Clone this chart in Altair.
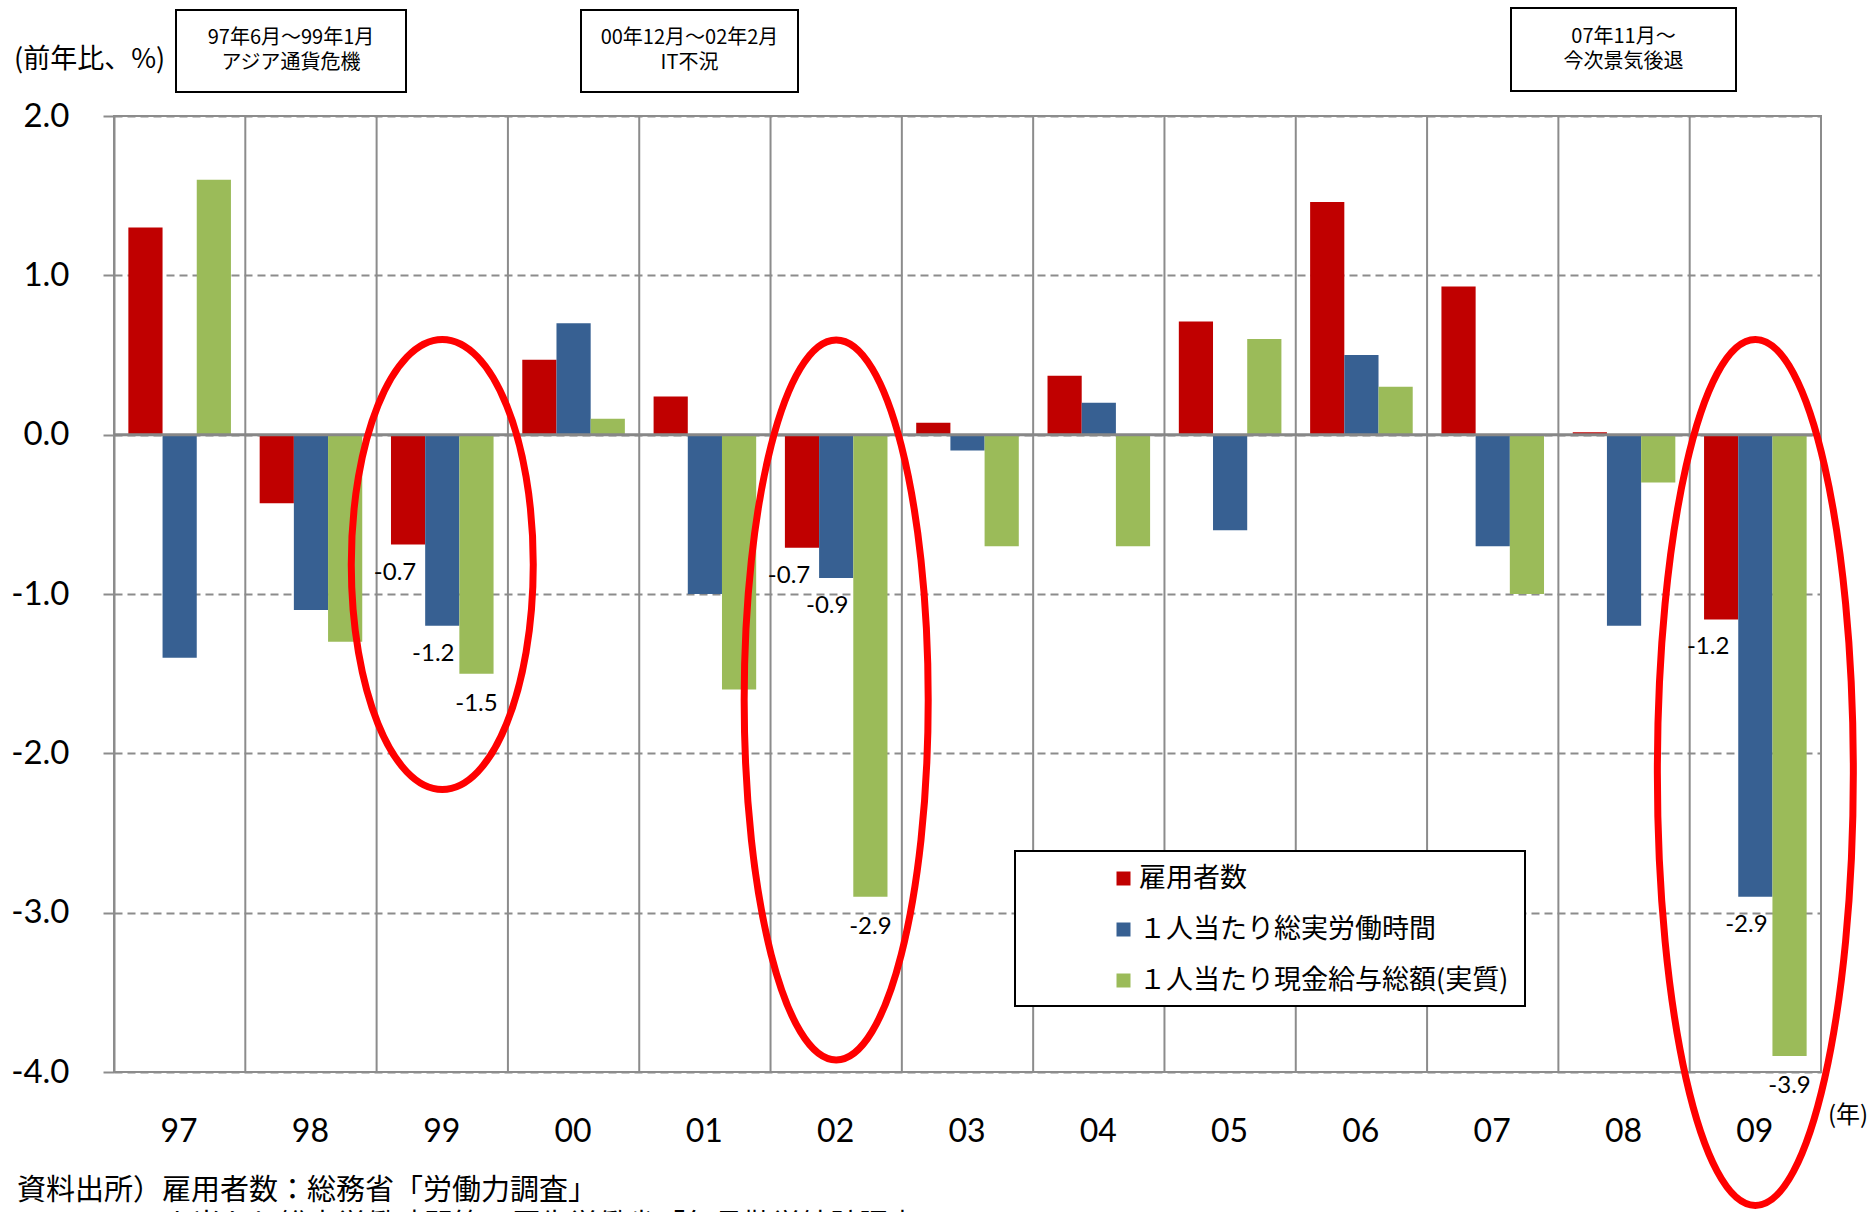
import altair as alt
import pandas as pd

# ---- values (year-on-year change, %) ----
years = ["97", "98", "99", "00", "01", "02", "03", "04", "05", "06", "07", "08", "09"]
employees = [1.30, -0.43, -0.69, 0.47, 0.24, -0.71, 0.075, 0.37, 0.71, 1.46, 0.93, 0.015, -1.16]
hours = [-1.40, -1.10, -1.20, 0.70, -1.00, -0.90, -0.10, 0.20, -0.60, 0.50, -0.70, -1.20, -2.90]
wages = [1.60, -1.30, -1.50, 0.10, -1.60, -2.90, -0.70, -0.70, 0.60, 0.30, -1.00, -0.30, -3.90]

series_names = ["雇用者数", "１人当たり総実労働時間", "１人当たり現金給与総額(実質)"]
series_colors = ["#C00000", "#376092", "#9BBB59"]

# years whose bars carry value labels and a ring
labeled_years = ["99", "02", "09"]
ring_centres = [-0.815, -1.665, -2.12]

period_notes = [
    ("97年6月～99年1月", "アジア通貨危機"),
    ("00年12月～02年2月", "IT不況"),
    ("07年11月～", "今次景気後退"),
]

unit_label = "(前年比、%)"
year_label = "(年)"
source_note = "資料出所）雇用者数：総務省「労働力調査」"
source_note2 = "１人当たり総実労働時間等：厚生労働省「毎月勤労統計調査」"

JP = "Noto Sans CJK JP"
NUM = "Lato"
GRID = "#8c8c8c"

rows = []
for s, vals in zip(series_names, [employees, hours, wages]):
    for yr, v in zip(years, vals):
        rows.append({"year": yr, "series": s, "value": v})
df = pd.DataFrame(rows)

W, H = 1707, 956

x_enc = alt.X(
    "year:N", sort=years,
    scale=alt.Scale(domain=years, paddingInner=0, paddingOuter=0),
    axis=alt.Axis(title=None, domain=False, ticks=False, tickSize=0, grid=False,
                  labelAngle=0, labelFont=NUM, labelFontSize=32, labelColor="black",
                  labelPadding=59, labelBaseline="middle", labelOffset=18),
)
y_scale = alt.Scale(domain=[-4, 2], nice=False, zero=False)
y_enc = alt.Y(
    "value:Q", scale=y_scale,
    axis=alt.Axis(title=None, values=[-4, -3, -2, -1, 0, 1, 2],
                  labelExpr="(datum.value < 0 ? '-' : '') + format(abs(datum.value), '.1f')",
                  grid=True, gridDash=[8, 5], gridColor=GRID, gridWidth=2,
                  domainColor=GRID, domainWidth=2, tickColor=GRID, tickWidth=2, tickSize=11,
                  labelPadding=34, labelFont=NUM, labelFontSize=33, labelColor="black"),
)
offset_enc = alt.XOffset("series:N", sort=series_names,
                         scale=alt.Scale(domain=series_names, paddingInner=0, paddingOuter=0.42))

base = alt.Chart(df)

# vertical separators at the left edge of each year band
separators = alt.Chart(pd.DataFrame({"year": years})).mark_rule(
    color=GRID, strokeWidth=2
).encode(x=alt.X("year:N", sort=years, bandPosition=0))

bars = base.mark_bar(strokeWidth=0).encode(
    x=x_enc,
    xOffset=offset_enc,
    y=y_enc,
    color=alt.Color(
        "series:N", sort=series_names,
        scale=alt.Scale(domain=series_names, range=series_colors),
        legend=alt.Legend(orient="none", legendX=996, legendY=749, title=None,
                          symbolType="square", symbolSize=196, symbolStrokeWidth=0,
                          labelFont=JP, labelFontSize=27, labelColor="black", labelLimit=0,
                          labelOffset=2, rowPadding=23, padding=0),
    ),
)

zero_line = alt.Chart(pd.DataFrame({"value": [0]})).mark_rule(
    color="#878787", strokeWidth=3
).encode(y=alt.Y("value:Q", scale=y_scale))

# value labels under the bars of the circled years
label_style = {series_names[0]: (-13, 28), series_names[1]: (-9, 28), series_names[2]: (0, 30)}
value_labels = []
for s in series_names:
    dx, dy = label_style[s]
    value_labels.append(
        base.transform_filter(
            alt.FieldOneOfPredicate(field="year", oneOf=labeled_years)
        ).transform_filter(
            alt.FieldEqualPredicate(field="series", equal=s)
        ).transform_calculate(
            label="(datum.value < 0 ? '-' : '') + format(abs(datum.value), '.1f')"
        ).mark_text(font=NUM, fontSize=24, color="black", dx=dx, dy=dy, baseline="middle")
        .encode(x=x_enc, xOffset=offset_enc, y=y_enc, text="label:N")
    )

# legend frame
legend_box = alt.Chart(pd.DataFrame({"k": [0]})).mark_rect(
    fill="white", stroke="black", strokeWidth=2
).encode(x=alt.value(901), x2=alt.value(1411), y=alt.value(735), y2=alt.value(890))


def ellipse_path(a):
    k = 0.5523
    return (f"M 0 -1 C {k*a:.4f} -1 {a:.4f} {-k:.4f} {a:.4f} 0 "
            f"C {a:.4f} {k:.4f} {k*a:.4f} 1 0 1 "
            f"C {-k*a:.4f} 1 {-a:.4f} {k:.4f} {-a:.4f} 0 "
            f"C {-a:.4f} {-k:.4f} {-k*a:.4f} -1 0 -1 Z")


# ring radii in pixels (half-width, half-height)
ring_radii = [(91, 225), (92, 360), (98, 433)]
rings = []
for yr, c, (rx, ry) in zip(labeled_years, ring_centres, ring_radii):
    rings.append(
        alt.Chart(pd.DataFrame({"year": [yr], "value": [c]})).mark_point(
            shape=ellipse_path(rx / ry), size=(2 * ry) ** 2, filled=False,
            stroke="#FF0000", strokeWidth=7, opacity=1
        ).encode(x=alt.X("year:N", sort=years), y=alt.Y("value:Q", scale=y_scale))
    )


def free_text(txt, x, y, size, align="left"):
    return alt.Chart(pd.DataFrame({"k": [0]})).mark_text(
        font=JP, fontSize=size, color="black", align=align, baseline="middle"
    ).encode(x=alt.value(x), y=alt.value(y), text=alt.value(txt))


# period boxes above the plot
note_boxes = []
for (line1, line2), (x0, x1, y0, y1) in zip(
        period_notes, [(62, 292, -106, -24), (467, 684, -106, -24), (1397, 1622, -108, -25)]):
    note_boxes.append(
        alt.Chart(pd.DataFrame({"k": [0]})).mark_rect(
            fill="white", stroke="black", strokeWidth=2
        ).encode(x=alt.value(x0), x2=alt.value(x1), y=alt.value(y0), y2=alt.value(y1))
    )
    cx, cy = (x0 + x1) / 2, (y0 + y1) / 2
    note_boxes.append(free_text(line1, cx, cy - 13, 20, align="center"))
    note_boxes.append(free_text(line2, cx, cy + 12, 20, align="center"))


texts = [
    free_text(unit_label, -100, -56, 27),
    free_text(year_label, 1734, 1000, 24, align="center"),
    free_text(source_note, -97, 1075, 29),
    free_text(source_note2, 20, 1110, 29),
]

chart = alt.layer(
    separators, bars, zero_line, *value_labels, legend_box, *rings, *note_boxes, *texts
).properties(
    width=W, height=H,
    padding={"left": 114, "top": 116, "right": 55, "bottom": 140},
    autosize=alt.AutoSizeParams(type="none"),
).configure_view(stroke=GRID, strokeWidth=2)

chart.save("out.html", embed_options={"renderer": "svg", "actions": False})
